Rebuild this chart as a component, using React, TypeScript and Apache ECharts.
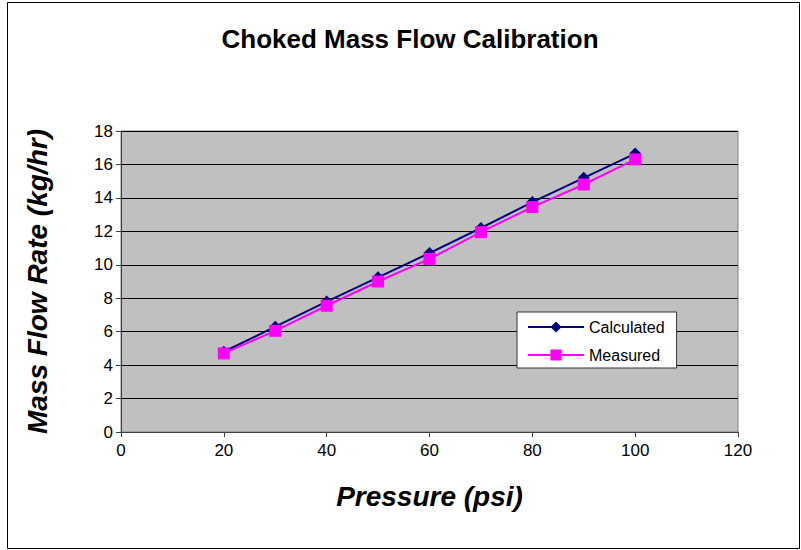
import React, { useEffect, useRef } from "react";
import * as echarts from "echarts";

const pressure = [20, 30, 40, 50, 60, 70, 80, 90, 100];
const calculated = [4.8, 6.3, 7.8, 9.25, 10.7, 12.2, 13.75, 15.2, 16.65];
const measured = [4.7, 6.05, 7.55, 9.0, 10.35, 11.95, 13.45, 14.8, 16.3];

const FONT = "'Liberation Sans', Arial, sans-serif";

export default function App() {
  const ref = useRef<HTMLDivElement>(null);
  useEffect(() => {
    if (!ref.current) return;
    const chart = echarts.init(ref.current, undefined, { renderer: "svg" });
    chart.setOption({
      animation: false,
      backgroundColor: "#ffffff",
      textStyle: { fontFamily: FONT },
      graphic: [
        {
          type: "rect",
          shape: { x: 7.5, y: 2.5, width: 792, height: 546 },
          style: { fill: "none", stroke: "#000", lineWidth: 1 },
          silent: true,
        },
        {
          type: "text",
          x: 410,
          y: 39,
          style: {
            text: "Choked Mass Flow Calibration",
            font: `bold 26px ${FONT}`,
            fill: "#000",
            align: "center",
            verticalAlign: "middle",
            textAlign: "center",
            textVerticalAlign: "middle",
          },
        },
      ],
      grid: {
        left: 121,
        right: 63,
        top: 131,
        bottom: 118,
        show: true,
        backgroundColor: "#C0C0C0",
        borderColor: "#808080",
        borderWidth: 1,
      },
      legend: {
        orient: "vertical",
        left: 517,
        top: 312,
        padding: [7, 12, 5, 10],
        itemWidth: 56,
        itemHeight: 14,
        itemGap: 12,
        backgroundColor: "#ffffff",
        borderColor: "#333",
        borderWidth: 1,
        textStyle: { fontSize: 16, color: "#000", fontFamily: FONT },
        data: ["Calculated", "Measured"],
      },
      xAxis: {
        type: "value",
        min: 0,
        max: 120,
        interval: 20,
        name: "Pressure (psi)",
        nameLocation: "middle",
        nameGap: 50,
        nameTextStyle: {
          fontSize: 28,
          fontWeight: "bold",
          fontStyle: "italic",
          color: "#000",
          fontFamily: FONT,
        },
        axisLine: { show: true, lineStyle: { color: "#404040", width: 1 } },
        axisTick: { show: true, length: 5, lineStyle: { color: "#404040" } },
        axisLabel: { fontSize: 17, color: "#000", margin: 10, fontFamily: FONT },
        splitLine: { show: false },
      },
      yAxis: {
        type: "value",
        min: 0,
        max: 18,
        interval: 2,
        name: "Mass Flow Rate (kg/hr)",
        nameLocation: "middle",
        nameRotate: 90,
        nameGap: 70,
        nameTextStyle: {
          fontSize: 28,
          fontWeight: "bold",
          fontStyle: "italic",
          color: "#000",
          fontFamily: FONT,
        },
        axisLine: { show: true, lineStyle: { color: "#404040", width: 1 } },
        axisTick: { show: true, length: 5, lineStyle: { color: "#404040" } },
        axisLabel: { fontSize: 17, color: "#000", margin: 8, fontFamily: FONT },
        splitLine: { show: true, lineStyle: { color: "#000", width: 1 } },
      },
      series: [
        {
          name: "Calculated",
          type: "line",
          data: pressure.map((p, i) => [p, calculated[i]]),
          symbol: "diamond",
          symbolSize: 12,
          itemStyle: { color: "#000080" },
          lineStyle: { color: "#000080", width: 2 },
        },
        {
          name: "Measured",
          type: "line",
          data: pressure.map((p, i) => [p, measured[i]]),
          symbol: "rect",
          symbolSize: 12,
          itemStyle: { color: "#FF00FF" },
          lineStyle: { color: "#FF00FF", width: 2 },
        },
      ],
    });
    return () => chart.dispose();
  }, []);
  return (
    <div
      ref={ref}
      style={{ position: "fixed", left: 0, top: 0, width: 801, height: 550 }}
    />
  );
}
